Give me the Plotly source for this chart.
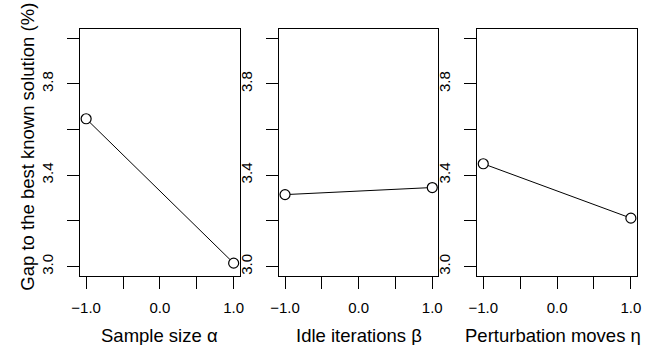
import plotly.graph_objects as go

# Main-effect levels and mean gap for each parameter
levels = [-1.0, 1.0]
gap_sample_size = [3.647, 3.015]
gap_idle_iter = [3.315, 3.346]
gap_perturb = [3.450, 3.212]

panel_titles = ["Sample size \u03b1", "Idle iterations \u03b2", "Perturbation moves \u03b7"]
y_title = "Gap to the best known solution (%)"

x_tickvals = [-1.0, -0.5, 0.0, 0.5, 1.0]
x_ticktext = ["\u22121.0", "", "0.0", "", "1.0"]
y_tickvals = [3.0, 3.2, 3.4, 3.6, 3.8, 4.0]
y_ticktext = ["3.0", "", "3.4", "", "3.8", ""]

W, H = 645, 345
FONT = "Liberation Sans, Arial, Helvetica, sans-serif"

# pixel extents of each panel box
x_px = [(72.7, 235.3), (275.7, 438.0), (478.0, 640.7)]
y_px = (29.0, 275.7)
# horizontal centre of each panel's x title (last one nudged to stay on page)
title_cx = [154.0, 357.0, 555.0]

fig = go.Figure()
series = [gap_sample_size, gap_idle_iter, gap_perturb]

for i, (ys, (x0, x1)) in enumerate(zip(series, x_px)):
    n = "" if i == 0 else str(i + 1)
    fig.add_trace(go.Scatter(
        x=levels, y=ys, mode="lines+markers",
        line=dict(color="black", width=1),
        marker=dict(symbol="circle", size=10, color="white",
                    line=dict(color="black", width=1.2)),
        xaxis="x" + n, yaxis="y" + n, showlegend=False, cliponaxis=False,
    ))
    common = dict(showline=True, mirror=True, linecolor="black", linewidth=1,
                  ticks="outside", ticklen=12, tickwidth=1, tickcolor="black",
                  showgrid=False, zeroline=False,
                  tickfont=dict(family=FONT, size=15, color="black"))
    fig.layout["xaxis" + n] = dict(
        domain=[x0 / W, x1 / W], range=[-1.08, 1.08], anchor="y" + n,
        tickmode="array", tickvals=x_tickvals, ticktext=x_ticktext,
        ticklabelstandoff=6, **common)
    fig.layout["yaxis" + n] = dict(
        domain=[1 - y_px[1] / H, 1 - y_px[0] / H], range=[2.96, 4.04],
        anchor="x" + n, tickmode="array", tickvals=y_tickvals,
        ticktext=y_ticktext, tickangle=-90, ticklabelstandoff=8, **common)
    fig.add_annotation(
        text=panel_titles[i], x=title_cx[i] / W, y=1 - 335 / H,
        xref="paper", yref="paper", showarrow=False,
        font=dict(family=FONT, size=18.5, color="black"),
        xanchor="center", yanchor="middle")

fig.add_annotation(
    text=y_title, x=18 / W, y=1 - 147 / H, xref="paper", yref="paper",
    showarrow=False, textangle=-90,
    font=dict(family=FONT, size=18.5, color="black"),
    xanchor="center", yanchor="middle")

fig.update_layout(
    width=W, height=H, margin=dict(l=0, r=0, t=0, b=0),
    paper_bgcolor="white", plot_bgcolor="white",
)

fig.write_html("out.html")
